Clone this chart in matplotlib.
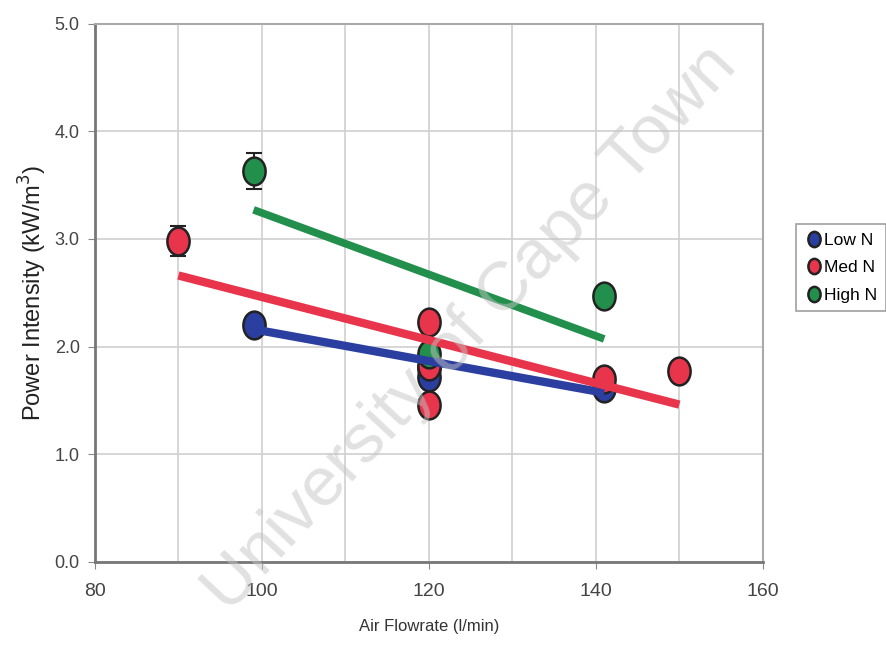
import matplotlib
matplotlib.use("Agg")
import matplotlib.pyplot as plt
from matplotlib.path import Path
from matplotlib.transforms import Affine2D

plt.rcParams['font.family'] = ['Liberation Sans', 'DejaVu Sans']

# data
low_x = [99, 120, 120, 141]
low_y = [2.20, 1.80, 1.72, 1.61]
low_err = [0.05, 0.05, 0.05, 0.05]

med_x = [90, 120, 120, 120, 141, 150]
med_y = [2.98, 2.23, 1.82, 1.46, 1.70, 1.77]
med_err = [0.14, 0.05, 0.05, 0.05, 0.05, 0.05]

high_x = [99, 120, 141]
high_y = [3.63, 1.93, 2.47]
high_err = [0.17, 0.05, 0.08]

# trend lines (end points)
low_fit_x = [99, 141]
low_fit_y = [2.16, 1.57]
med_fit_x = [90, 150]
med_fit_y = [2.66, 1.46]
high_fit_x = [99, 141]
high_fit_y = [3.27, 2.07]

x_ticks = [80, 100, 120, 140, 160]
y_ticks = [0.0, 1.0, 2.0, 3.0, 4.0, 5.0]

blue = '#2b3fa0'
red = '#e8354c'
green = '#22904c'

# slightly tall oval marker like the original
oval = Path.unit_circle().transformed(Affine2D().scale(0.8, 1.0))

fig = plt.figure(figsize=(8.87, 6.57), dpi=100)
ax = fig.add_axes([0.107, 0.145, 0.753, 0.819])

series = [
    (low_x, low_y, low_err, blue, 'Low N'),
    (med_x, med_y, med_err, red, 'Med N'),
    (high_x, high_y, high_err, green, 'High N'),
]
for xs, ys, es, c, lab in series:
    ax.errorbar(xs, ys, yerr=es, fmt='none', ecolor='#222222', elinewidth=1.5,
                capsize=6, capthick=1.5, zorder=3)
    ax.plot(xs, ys, linestyle='none', marker=oval, markersize=20,
            markerfacecolor=c, markeredgecolor='#222222', markeredgewidth=1.8,
            label=lab, zorder=4)

ax.plot(low_fit_x, low_fit_y, color=blue, lw=6, solid_capstyle='butt', zorder=5)
ax.plot(med_fit_x, med_fit_y, color=red, lw=6, solid_capstyle='butt', zorder=5)
ax.plot(high_fit_x, high_fit_y, color=green, lw=5.5, solid_capstyle='butt', zorder=5)

ax.set_xlim(80, 160)
ax.set_ylim(0, 5)
ax.set_xticks(x_ticks)
ax.set_xticks(range(80, 161, 10), minor=True)
ax.set_yticks(y_ticks)
ax.set_yticklabels(['%.1f' % v for v in y_ticks])
ax.grid(True, which='both', color='#cfcfcf', lw=1.2, zorder=0)
ax.tick_params(axis='x', which='minor', length=0)
ax.tick_params(axis='both', which='major', direction='out', length=5,
               color='#888888', labelcolor='#444444')
ax.tick_params(axis='x', labelsize=14, pad=10)
ax.tick_params(axis='y', labelsize=13, pad=6)

for s in ['top', 'right']:
    ax.spines[s].set_color('#aaaaaa')
    ax.spines[s].set_linewidth(1.5)
for s in ['left', 'bottom']:
    ax.spines[s].set_color('#777777')
    ax.spines[s].set_linewidth(2)

ax.set_xlabel('Air Flowrate (l/min)', fontsize=12, color='#333333', labelpad=14)
ax.set_ylabel('Power Intensity (kW/m$^3$)', fontsize=17, color='#222222', labelpad=4)

leg = fig.legend(loc='upper left', bbox_to_anchor=(0.888, 0.672), fontsize=12.5,
                 frameon=True, fancybox=False, edgecolor='#888888',
                 handletextpad=0.1, handlelength=1.0, labelspacing=0.7,
                 borderpad=0.5, markerscale=0.55)
leg.get_frame().set_linewidth(1.2)

# watermark
fig.text(0.53, 0.50, 'University of Cape Town', fontsize=50, color='#c4c4c4',
         alpha=0.5, rotation=47, ha='center', va='center', zorder=20)

fig.savefig('out.png', dpi=100)
